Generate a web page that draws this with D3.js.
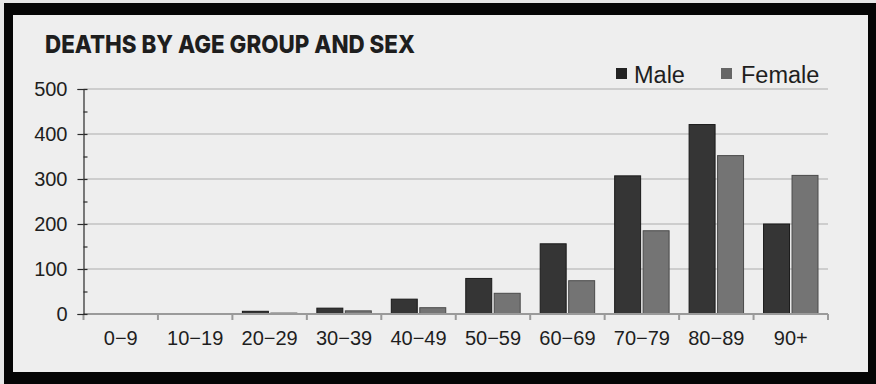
<!DOCTYPE html>
<html>
<head>
<meta charset="utf-8">
<script src="https://cdn.jsdelivr.net/npm/d3@7"></script>
<style>
  body { margin: 0; background: #e6e6e6; }
  text { font-family: "Liberation Sans", Arial, sans-serif; fill: #1e1e1e; }
  .title { font-family: Inter, "DejaVu Sans", sans-serif; font-weight: 800; }
</style>
</head>
<body>
<div id="chart"></div>
<script>
// Data
var ageGroups = ["0−9", "10−19", "20−29", "30−39", "40−49", "50−59", "60−69", "70−79", "80−89", "90+"];
var seriesNames = ["Male", "Female"];
var maleDeaths = [0, 0, 6, 13, 33, 79, 156, 307, 421, 200];
var femaleDeaths = [0, 0, 2, 7, 14, 46, 74, 185, 352, 308];
var yTicks = [0, 100, 200, 300, 400, 500];

var svgWidth = 876;
var svgHeight = 384;

var svg = d3.select("#chart")
    .append("svg")
    .attr("width", svgWidth)
    .attr("height", svgHeight);

// Black frame and light panel
svg.append("rect")
    .attr("x", 4).attr("y", 3)
    .attr("width", svgWidth - 4).attr("height", svgHeight - 3)
    .attr("fill", "#050505");
svg.append("rect")
    .attr("x", 13).attr("y", 15)
    .attr("width", 855).attr("height", 357)
    .attr("fill", "#eeeeee");

// Scales
var x = d3.scaleBand()
    .domain(ageGroups)
    .range([83.5, 828]);

var xInner = d3.scaleBand()
    .domain(seriesNames)
    .range([10, x.bandwidth() - 10])
    .paddingInner(0.088);

var y = d3.scaleLinear()
    .domain([0, 500])
    .range([314, 89]);

var colors = { Male: "#353535", Female: "#747474" };
var strokes = { Male: "#1a1a1a", Female: "#4a4a4a" };

// Gridlines
svg.append("g")
    .selectAll("line")
    .data(yTicks.filter(d => d > 0))
    .join("line")
    .attr("x1", 83.5)
    .attr("x2", 828)
    .attr("y1", d => y(d))
    .attr("y2", d => y(d))
    .attr("stroke", "#ababab")
    .attr("stroke-width", 1.2);

// Bars
var rows = ageGroups.map((g, i) => ({ group: g, Male: maleDeaths[i], Female: femaleDeaths[i] }));

svg.append("g")
    .selectAll("g")
    .data(rows)
    .join("g")
    .attr("transform", d => `translate(${x(d.group)},0)`)
    .selectAll("rect")
    .data(d => seriesNames.map(s => ({ key: s, value: d[s] })))
    .join("rect")
    .attr("x", d => xInner(d.key))
    .attr("y", d => y(d.value))
    .attr("width", xInner.bandwidth())
    .attr("height", d => y(0) - y(d.value))
    .attr("fill", d => colors[d.key])
    .attr("stroke", d => d.value > 0 ? strokes[d.key] : "none")
    .attr("stroke-width", 1);

// X axis line and boundary ticks
svg.append("line")
    .attr("x1", 83.5).attr("x2", 828)
    .attr("y1", y(0)).attr("y2", y(0))
    .attr("stroke", "#9a9a9a")
    .attr("stroke-width", 2);

var boundaries = ageGroups.map(g => x(g)).concat([x.range()[1]]);
svg.append("g")
    .selectAll("line")
    .data(boundaries)
    .join("line")
    .attr("x1", d => d).attr("x2", d => d)
    .attr("y1", y(0)).attr("y2", y(0) + 6)
    .attr("stroke", "#9a9a9a")
    .attr("stroke-width", 2);

// X labels
var xAxis = svg.append("g")
    .attr("transform", `translate(0, ${y(0)})`)
    .call(d3.axisBottom(x).tickSize(0).tickPadding(17));
xAxis.select(".domain").remove();
xAxis.selectAll("text")
    .style("font-size", "20px")
    .style("font-family", "'Liberation Sans', Arial, sans-serif")
    .attr("fill", "#1e1e1e");

// Y axis
var yAxis = svg.append("g")
    .attr("transform", "translate(83.5,0)")
    .call(d3.axisLeft(y).tickValues(yTicks).tickSize(6).tickPadding(10));
yAxis.select(".domain").attr("stroke", "#2a2a2a").attr("stroke-width", 1.2);
yAxis.selectAll(".tick line").attr("stroke", "#2a2a2a").attr("stroke-width", 1.2);
yAxis.selectAll("text")
    .style("font-size", "20px")
    .style("font-family", "'Liberation Sans', Arial, sans-serif")
    .attr("fill", "#1e1e1e");

// Inner ticks every 50
var minorAxis = svg.append("g")
    .attr("transform", "translate(83.5,0)")
    .call(d3.axisRight(y).tickValues(d3.range(0, 501, 50)).tickSize(4).tickFormat(""));
minorAxis.select(".domain").remove();
minorAxis.selectAll(".tick line").attr("stroke", "#2a2a2a").attr("stroke-width", 1.2);

// Title
svg.append("text")
    .attr("class", "title")
    .attr("x", 45)
    .attr("y", 53)
    .style("font-size", "25px")
    .attr("textLength", 370)
    .attr("lengthAdjust", "spacingAndGlyphs")
    .text("DEATHS BY AGE GROUP AND SEX");

// Legend
var legendX = { Male: 616, Female: 721 };
var legend = svg.append("g")
    .selectAll("g")
    .data(seriesNames)
    .join("g")
    .attr("transform", d => `translate(${legendX[d]}, 68)`);

legend.append("rect")
    .attr("width", 11)
    .attr("height", 11)
    .attr("fill", d => d === "Male" ? "#222222" : "#666666");

legend.append("text")
    .attr("x", d => d === "Male" ? 18 : 20)
    .attr("y", 14.5)
    .style("font-size", "23.5px")
    .text(d => d);
</script>
</body>
</html>
